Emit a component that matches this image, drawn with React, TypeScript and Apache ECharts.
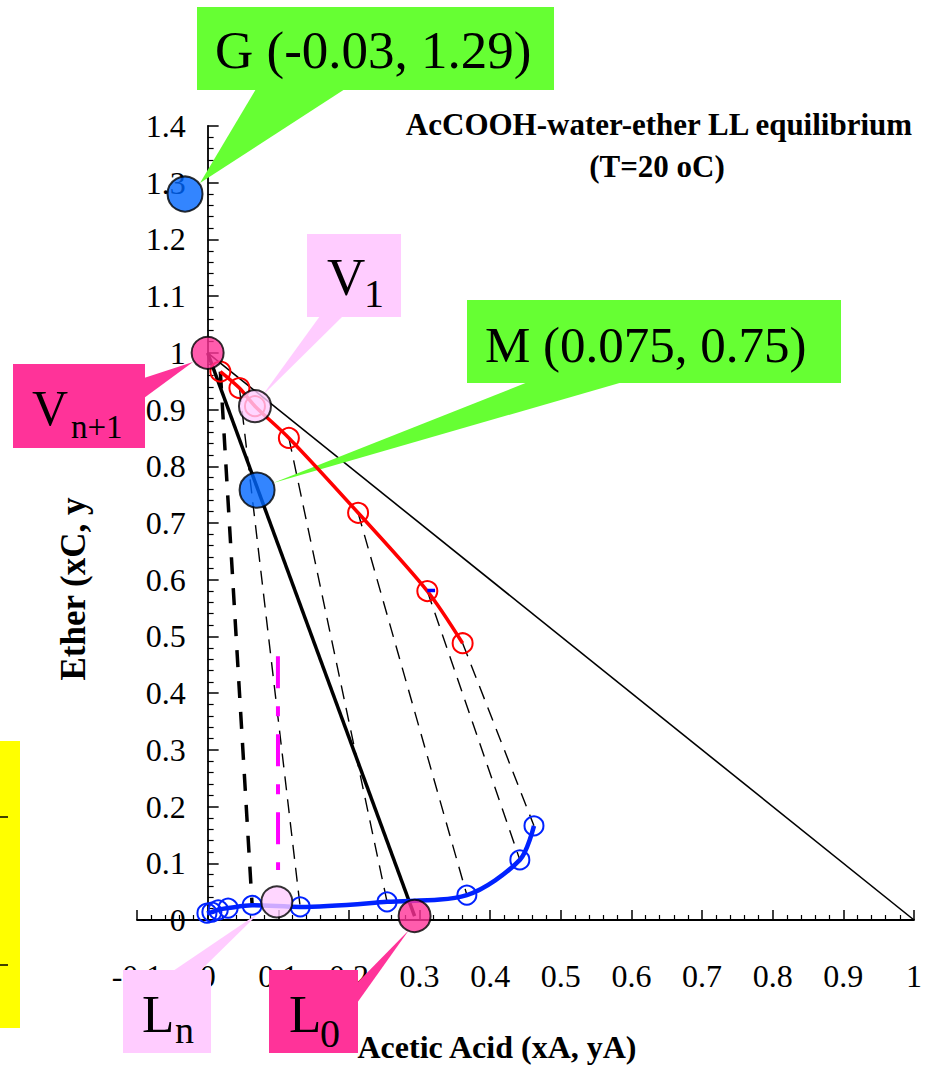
import React, { useEffect, useRef } from "react";
import * as echarts from "echarts";

// ---- axis ranges / ticks ----
const X_MIN = -0.1;
const X_MAX = 1;
const Y_MIN = 0;
const Y_MAX = 1.4;
const TICK_STEP = 0.1;

// ---- extract phase (red, ether-rich) ----
const extractX = [0.018, 0.045, 0.067, 0.115, 0.213, 0.311, 0.361];
const extractY = [0.967, 0.938, 0.906, 0.85, 0.718, 0.58, 0.488];

// ---- raffinate phase (blue, water-rich) ----
const raffX = [-0.001, 0.006, 0.015, 0.029, 0.063, 0.131, 0.254, 0.367, 0.442, 0.462];
const raffY = [0.012, 0.014, 0.018, 0.021, 0.026, 0.023, 0.032, 0.044, 0.106, 0.166];

// ---- tie lines: [extract index, raffinate index, thick?] ----
const tieExtractIdx = [0, 1, 3, 4, 5, 6];
const tieRaffIdx = [4, 5, 6, 7, 8, 9];
const tieThick = [true, false, false, false, false, false];

// ---- triangle side (hypotenuse) ----
const hypoX = [0, 1];
const hypoY = [1, 0];

// ---- operating line V(n+1) -> L0 ----
const opX = [0, 0.293];
const opY = [1, 0.007];

// ---- magenta dash-dot segment ----
const magX = [0.0995, 0.0997];
const magY = [0.465, 0.088];

// ---- small blue mark ----
const markX = [0.311, 0.322];
const markY = [0.581, 0.581];

// ---- key points ----
const keyNames = ["G", "Vn+1", "V1", "M", "Ln", "L0"];
const keyX = [-0.032, 0, 0.067, 0.07, 0.098, 0.293];
const keyY = [1.28, 1.0, 0.906, 0.758, 0.032, 0.007];
const keyColors = ["#0066FF", "#FF3399", "#FFCCFF", "#0066FF", "#FFCCFF", "#FF3399"];
const keySizes = [35, 32, 32, 35, 31, 32];

// ---- texts ----
const titleLine1 = "AcCOOH-water-ether LL equilibrium";
const titleLine2 = "(T=20 oC)";
const xAxisName = "Acetic Acid (xA, yA)";
const yAxisName = "Ether (xC, y";
const labelG = "G (-0.03, 1.29)";
const labelM = "M (0.075, 0.75)";

const SERIF = "Liberation Serif";
const GREEN = "#66FF33";
const PINK = "#FFCCFF";
const HOT = "#FF3399";

// layout of the plotting area
const GRID_LEFT = 137;
const GRID_TOP = 126;
const GRID_W = 777;
const GRID_H = 794;

function txt(
  text: string,
  x: number,
  baseline: number,
  fs: number,
  opts: { bold?: boolean; align?: string; rotation?: number; z?: number } = {}
) {
  const align = opts.align || "left";
  return {
    type: "text",
    x,
    y: opts.rotation ? baseline : baseline - 0.34 * fs,
    rotation: opts.rotation || 0,
    z: opts.z ?? 20,
    style: {
      text,
      fill: "#000",
      fontSize: fs,
      fontFamily: SERIF,
      fontWeight: opts.bold ? "bold" : "normal",
      align,
      textAlign: align,
      verticalAlign: "middle",
      textVerticalAlign: "middle",
    },
  };
}

function rect(x: number, y: number, w: number, h: number, fill: string, z = 15) {
  return { type: "rect", z, shape: { x, y, width: w, height: h }, style: { fill } };
}

function poly(points: number[][], fill: string, z = 3) {
  return { type: "polygon", z, shape: { points }, style: { fill } };
}

export default function App() {
  const ref = useRef<HTMLDivElement>(null);

  useEffect(() => {
    if (!ref.current) return;
    const chart = echarts.init(ref.current, null, { renderer: "svg" });

    const pairs = (xs: number[], ys: number[]) => xs.map((x, i) => [x, ys[i]]);

    const tieSeries = tieExtractIdx.map((ei, k) => ({
      type: "line",
      data: [
        [extractX[ei], extractY[ei]],
        [raffX[tieRaffIdx[k]], raffY[tieRaffIdx[k]]],
      ],
      symbol: "none",
      z: 2,
      lineStyle: {
        color: "#000",
        width: tieThick[k] ? 3.5 : 1.4,
        type: tieThick[k] ? [17, 14] : [14, 9],
      },
    }));

    // pixel offset of x = 0 from the grid's left edge
    const yAxisOffset = -((0 - X_MIN) / (X_MAX - X_MIN)) * GRID_W;

    const option: any = {
      animation: false,
      backgroundColor: "#fff",
      grid: { left: GRID_LEFT, top: GRID_TOP, width: GRID_W, height: GRID_H, containLabel: false },
      xAxis: {
        type: "value",
        min: X_MIN,
        max: X_MAX,
        interval: TICK_STEP,
        splitLine: { show: false },
        axisLine: { show: true, onZero: true, lineStyle: { color: "#000", width: 1.8 } },
        axisTick: { show: true, inside: true, length: 10, lineStyle: { color: "#000", width: 1.5 } },
        minorTick: { show: true, splitNumber: 5, length: 5, lineStyle: { color: "#000", width: 1.2 } },
        minorSplitLine: { show: false },
        axisLabel: { color: "#000", fontSize: 32, fontFamily: SERIF, margin: 40 },
      },
      yAxis: {
        type: "value",
        min: Y_MIN,
        max: Y_MAX,
        interval: TICK_STEP,
        position: "left",
        offset: yAxisOffset,
        splitLine: { show: false },
        axisLine: { show: true, onZero: false, lineStyle: { color: "#000", width: 1.8 } },
        axisTick: { show: true, inside: true, length: 11, lineStyle: { color: "#000", width: 1.5 } },
        minorTick: { show: true, splitNumber: 5, length: 6, lineStyle: { color: "#000", width: 1.2 } },
        minorSplitLine: { show: false },
        axisLabel: { color: "#000", fontSize: 32, fontFamily: SERIF, margin: 22 },
      },
      series: [
        {
          type: "line",
          data: pairs(hypoX, hypoY),
          symbol: "none",
          z: 2,
          lineStyle: { color: "#000", width: 1.6 },
        },
        {
          type: "line",
          data: pairs(opX, opY),
          symbol: "none",
          z: 2,
          lineStyle: { color: "#000", width: 3.5 },
        },
        ...tieSeries,
        {
          type: "line",
          data: pairs(magX, magY),
          symbol: "none",
          z: 2,
          lineStyle: { color: "#FF00FF", width: 4, type: [32, 18, 10, 18] },
        },
        {
          type: "line",
          data: pairs(extractX, extractY),
          smooth: 0.3,
          symbol: "circle",
          symbolSize: 20,
          z: 3,
          itemStyle: { color: "transparent", borderColor: "#FF0000", borderWidth: 2 },
          lineStyle: { color: "#FF0000", width: 3.5 },
        },
        {
          type: "line",
          data: pairs(raffX, raffY),
          smooth: 0.3,
          symbol: "circle",
          symbolSize: 19,
          z: 3,
          itemStyle: { color: "transparent", borderColor: "#0022FF", borderWidth: 2 },
          lineStyle: { color: "#0022FF", width: 4.5 },
        },
        {
          type: "line",
          data: pairs(markX, markY),
          symbol: "none",
          z: 3,
          lineStyle: { color: "#0000FF", width: 3.5 },
        },
        {
          type: "scatter",
          z: 6,
          data: keyX.map((x, i) => ({
            name: keyNames[i],
            value: [x, keyY[i]],
            symbolSize: keySizes[i],
            itemStyle: { color: keyColors[i], borderColor: "#000", borderWidth: 2 },
          })),
        },
      ],
      graphic: [
        // titles & axis names
        txt(titleLine1, 659, 135, 31, { bold: true, align: "center" }),
        txt(titleLine2, 657, 177, 31, { bold: true, align: "center" }),
        txt(xAxisName, 497, 1058, 32, { bold: true, align: "center" }),
        txt(yAxisName, 73, 589, 35, { bold: true, align: "center", rotation: Math.PI / 2 }),
        // pointers
        poly([[256, 89], [345, 89], [200, 183]], GREEN),
        poly([[320, 316], [343, 316], [262, 396]], PINK),
        poly([[528, 382], [623, 382], [273, 483]], GREEN),
        poly([[144, 378], [144, 398], [193, 362]], HOT),
        poly([[173, 971], [200, 971], [260, 912]], PINK),
        poly([[357, 983], [357, 1003], [409, 930]], HOT),
        // boxes
        rect(197, 7, 357, 83, GREEN),
        rect(307, 234, 94, 83, PINK),
        rect(467, 300, 374, 83, GREEN),
        rect(13, 364, 132, 84, HOT),
        rect(123, 970, 88, 83, PINK),
        rect(269, 970, 89, 83, HOT),
        // box texts
        txt(labelG, 215, 68, 53),
        txt(labelM, 485, 362, 51),
        txt("V", 327, 295, 53),
        txt("1", 364, 307, 40),
        txt("V", 32, 425, 50),
        txt("n+1", 71, 438, 33),
        txt("L", 142, 1032, 53),
        txt("n", 175, 1043, 38),
        txt("L", 289, 1032, 53),
        txt("0", 320, 1047, 40),
        // yellow fragment on the left
        rect(0, 741, 20, 287, "#FFFF00", 1),
        {
          type: "line",
          z: 2,
          shape: { x1: 0, y1: 817, x2: 8, y2: 817 },
          style: { stroke: "#000", lineWidth: 1.5 },
        },
        {
          type: "line",
          z: 2,
          shape: { x1: 0, y1: 965, x2: 8, y2: 965 },
          style: { stroke: "#000", lineWidth: 1.5 },
        },
      ],
    };

    chart.setOption(option);
    return () => chart.dispose();
  }, []);

  return (
    <div
      ref={ref}
      style={{ position: "absolute", left: 0, top: 0, width: 929, height: 1065, background: "#fff" }}
    />
  );
}
